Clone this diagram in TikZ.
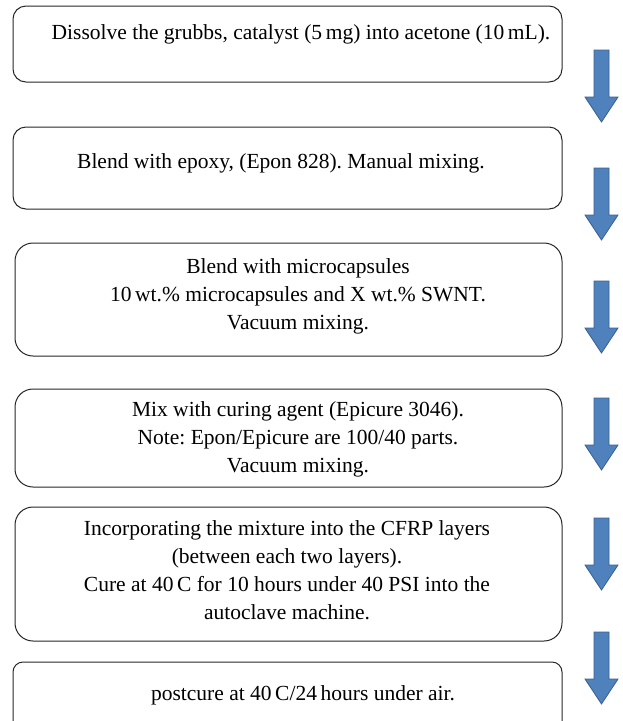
\documentclass[tikz,border=0pt]{standalone}
\usepackage{fontspec}
\setmainfont{Liberation Serif}
\frenchspacing
\definecolor{arrfill}{HTML}{4F81BD}
\definecolor{arrline}{HTML}{3A5F8E}
\definecolor{boxline}{HTML}{262626}
\begin{document}
\begin{tikzpicture}[x=1pt,y=-1pt,
  stepbox/.style={draw=boxline,line width=1pt,rectangle,inner sep=0pt,outer sep=0pt,rounded corners=#1},
  steptext/.style={align=center,inner sep=0pt,font=\fontsize{21.5}{28}\selectfont},
  blockarrow/.style={fill=arrfill,draw=arrline,line width=0.8pt,line join=miter}]
\useasboundingbox (0,0) rectangle (622,721);
\clip (0,0) rectangle (622,721);
% boxes
\node[stepbox=13pt,minimum width=549pt,minimum height=76pt] (b1) at (287.5,44) {};
\node[stepbox=13pt,minimum width=549pt,minimum height=82pt] (b2) at (287.5,168) {};
\node[stepbox=18pt,minimum width=547pt,minimum height=113pt] (b3) at (288.5,299.5) {};
\node[stepbox=18pt,minimum width=547pt,minimum height=98pt] (b4) at (288.5,438) {};
\node[stepbox=18pt,minimum width=547pt,minimum height=134pt] (b5) at (288.5,574) {};
\node[stepbox=10pt,minimum width=549pt,minimum height=100pt] (b6) at (287.5,712) {};
% texts
\node[steptext] (t1) at (301,34) {Dissolve the grubbs, catalyst (5\,mg) into acetone (10\,mL).};
\node[steptext] (t2) at (281,163) {Blend with epoxy, (Epon 828). Manual mixing.};
\node[steptext] (t3) at (298,296) {Blend with microcapsules\\10\,wt.\% microcapsules and X wt.\% SWNT.\\Vacuum mixing.};
\node[steptext] (t4) at (298,439) {Mix with curing agent (Epicure 3046).\\Note: Epon/Epicure are 100/40 parts.\\Vacuum mixing.};
\node[steptext] (t5) at (287,570) {Incorporating the mixture into the CFRP layers\\(between each two layers).\\Cure at 40\,C for 10 hours under 40 PSI into the\\autoclave machine.};
\node[steptext] (t6) at (303,695) {postcure at 40\,C/24\,hours under air.};
% block arrows
\foreach \t in {50,168,281,398,518,632}{
  \draw[blockarrow] (594,\t) -- (609,\t) -- (609,\t+47) -- (618,\t+47) -- (601.5,\t+72) -- (585,\t+47) -- (594,\t+47) -- cycle;
}
\end{tikzpicture}
\end{document}
